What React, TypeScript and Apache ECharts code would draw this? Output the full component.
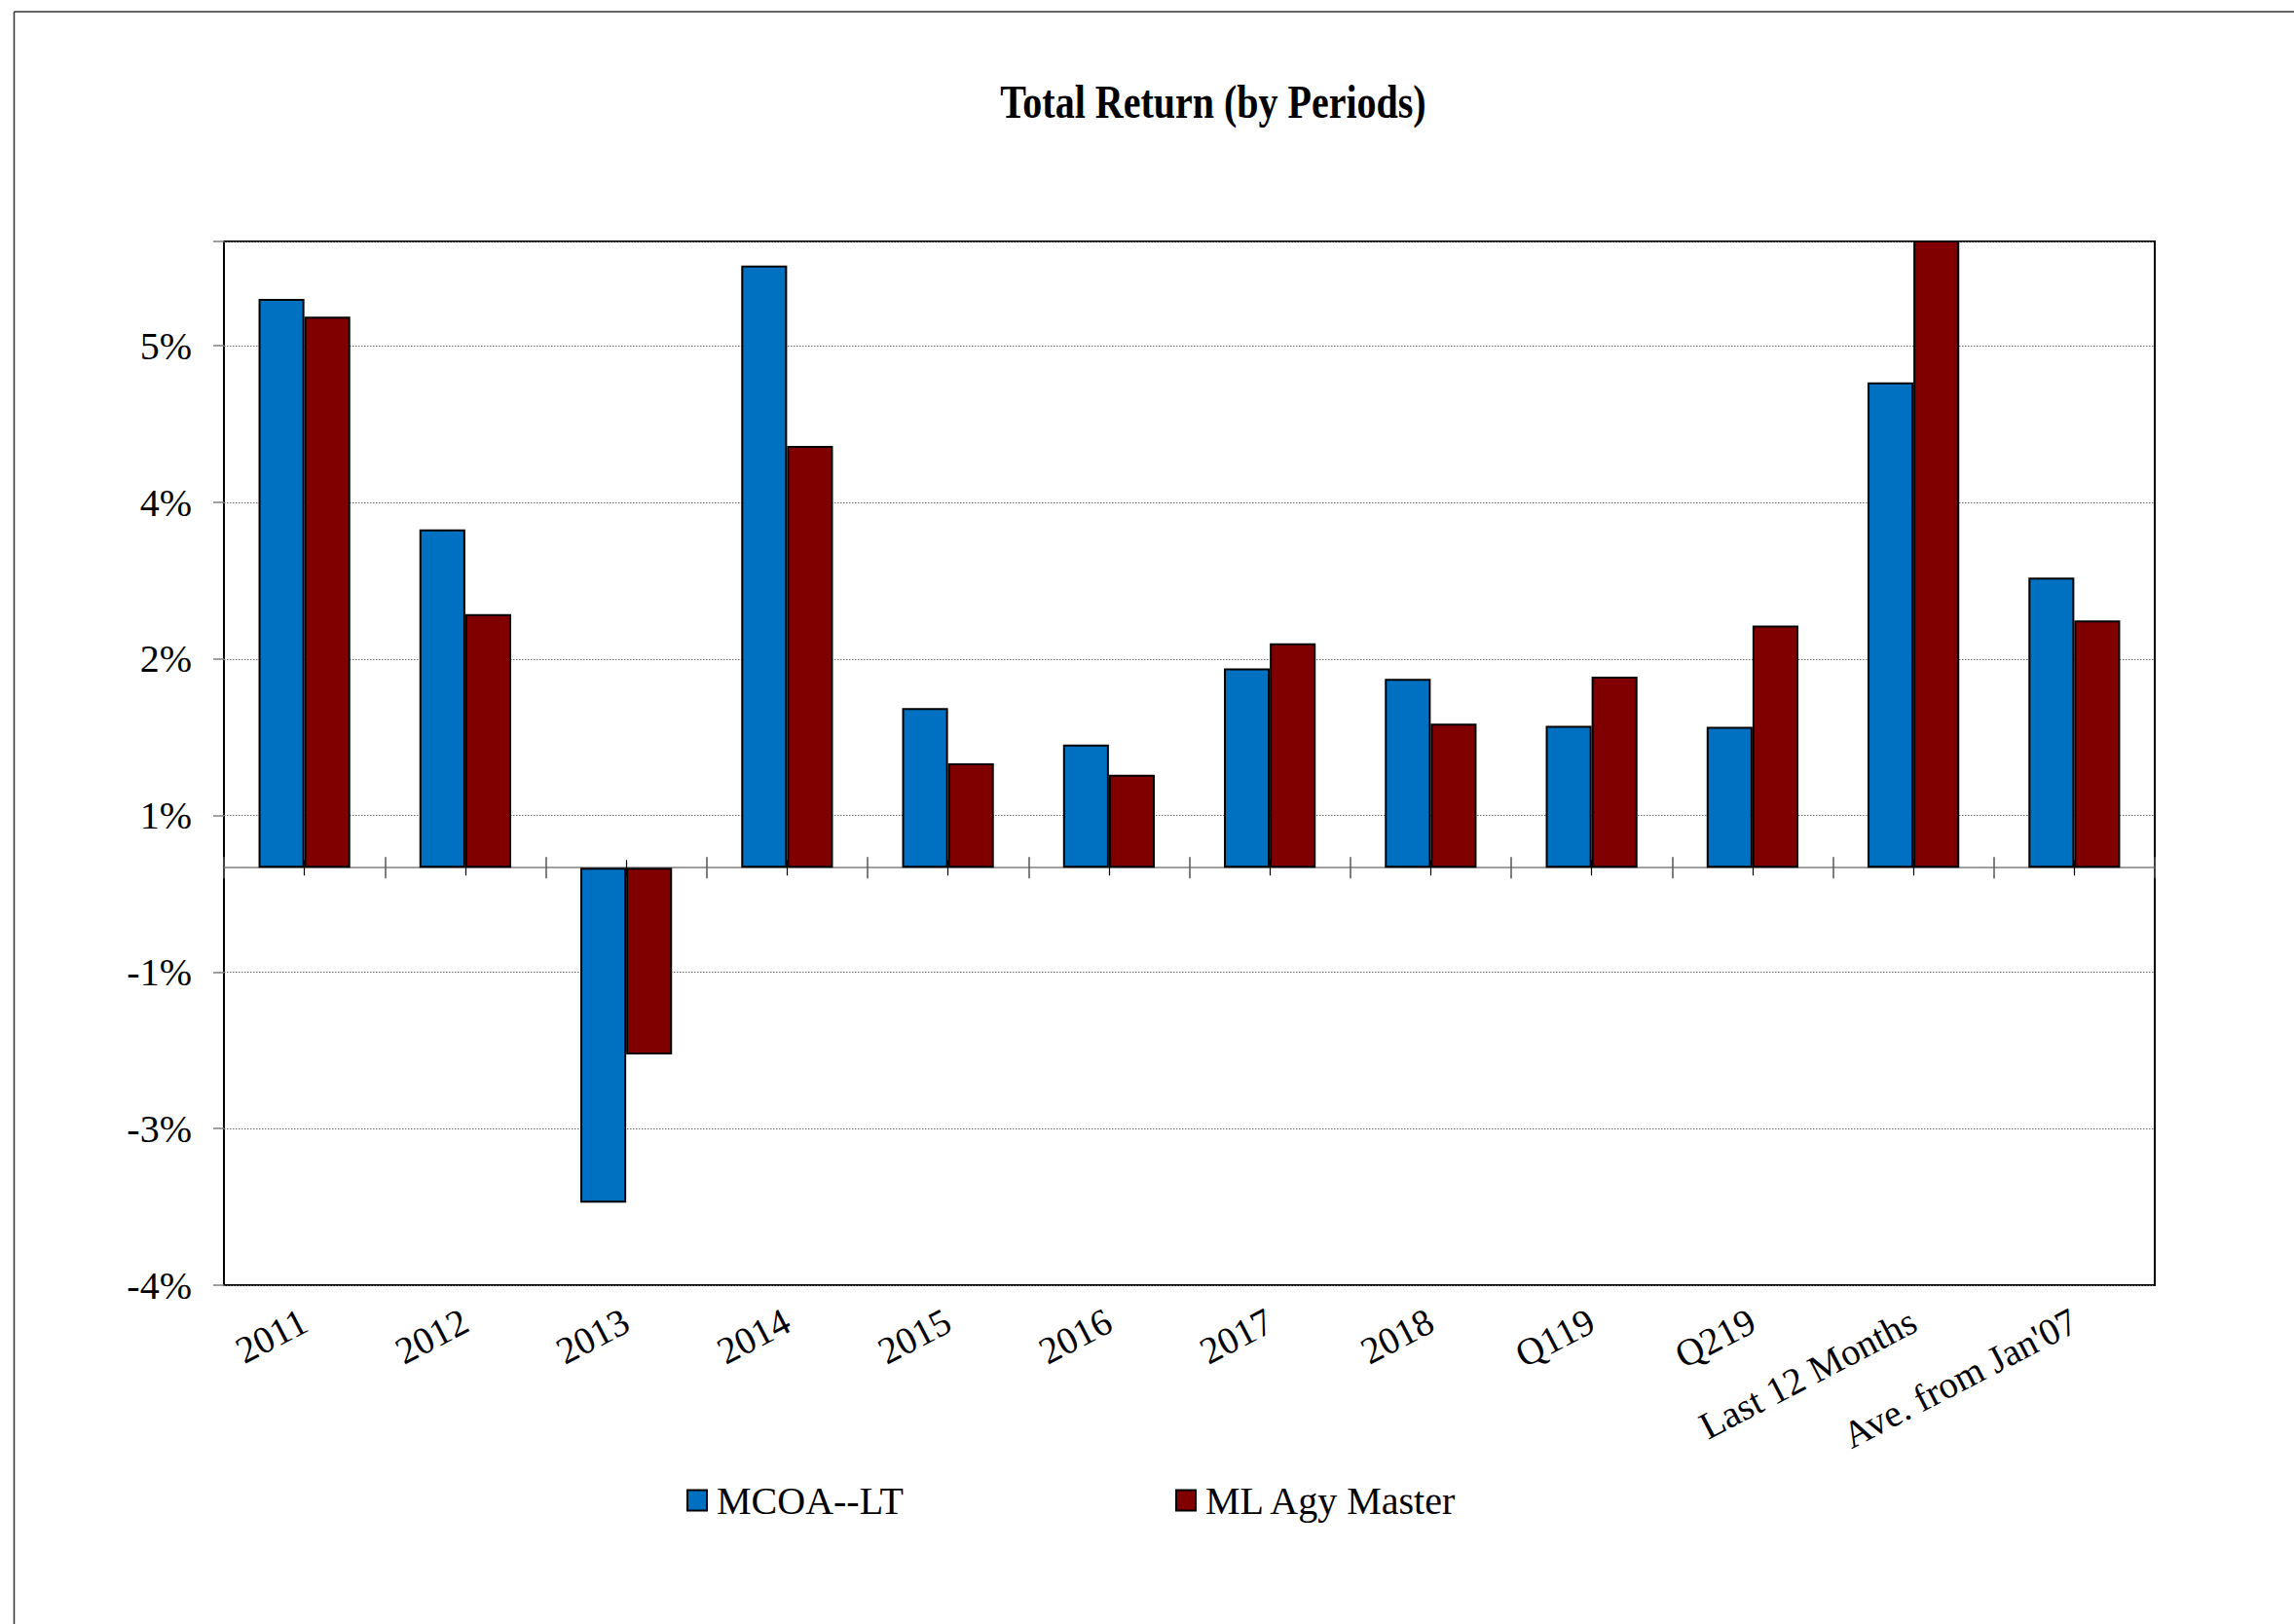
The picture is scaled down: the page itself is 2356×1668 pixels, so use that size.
import React, { useEffect, useRef } from 'react';
import * as echarts from 'echarts';

const categories = ['2011', '2012', '2013', '2014', '2015', '2016', '2017', '2018', 'Q119', 'Q219', 'Last 12 Months', "Ave. from Jan'07"];
const mcoaLT = [5.45, 3.24, -3.21, 5.77, 1.53, 1.18, 1.91, 1.81, 1.36, 1.35, 4.65, 2.78];
const mlAgyMaster = [5.28, 2.43, -1.79, 4.04, 1.0, 0.89, 2.15, 1.38, 1.83, 2.32, 6.3, 2.37];
const seriesNames = ['MCOA--LT', 'ML Agy Master'];
const seriesColors = ['#0070C0', '#800000'];
const yTickLabels = ['-4%', '-3%', '-1%', '1%', '2%', '4%', '5%'];
const yMin = -4;
const yMax = 6;
const yStep = 1.5;
const titleText = 'Total Return (by Periods)';

const FONT = '"Liberation Serif", "Times New Roman", "DejaVu Serif", serif';

function buildOption(): any {
  const zeroAxis = (extra: any) => ({
    type: 'category',
    data: categories,
    position: 'bottom',
    gridIndex: 0,
    axisLabel: { show: false, interval: 0 },
    splitLine: { show: false },
    ...extra,
  });
  const tickStyle = { color: '#555', width: 1.5 };
  const gridLine = { color: '#707070', width: 1.2, type: [1.5, 1.5] };

  return {
    animation: false,
    backgroundColor: '#fff',
    grid: {
      left: 230,
      right: 143,
      top: 248,
      bottom: 348,
      show: true,
      borderColor: '#000',
      borderWidth: 2,
      backgroundColor: 'transparent',
    },
    graphic: [
      { type: 'line', shape: { x1: 14.5, y1: 12, x2: 14.5, y2: 1668 }, style: { stroke: '#333', lineWidth: 1.5 }, silent: true },
      { type: 'line', shape: { x1: 14.5, y1: 12, x2: 2356, y2: 12 }, style: { stroke: '#333', lineWidth: 1.5 }, silent: true },
      {
        type: 'text',
        x: 1246,
        y: 105,
        scaleY: 1.2,
        style: {
          text: titleText,
          fill: '#000',
          font: 'bold 40px ' + FONT,
          align: 'center',
          verticalAlign: 'middle',
          textAlign: 'center',
          textVerticalAlign: 'middle',
        },
      },
    ],
    legend: seriesNames.map((n, i) => ({
      data: [n],
      left: i === 0 ? 700 : 1202,
      top: 1516,
      icon: 'rect',
      itemWidth: 20,
      itemHeight: 21,
      selectedMode: false,
      textStyle: { fontFamily: FONT, fontSize: 40, color: '#000', padding: [0, 0, 0, 5] },
    })),
    xAxis: [
      zeroAxis({
        axisLine: { show: true, onZero: true, onZeroAxisIndex: 0, lineStyle: { color: '#808080', width: 1.5 } },
        axisTick: { show: true, inside: false, length: 11, interval: 0, lineStyle: tickStyle },
      }),
      zeroAxis({
        axisLine: { show: false, onZero: true, onZeroAxisIndex: 0 },
        axisTick: { show: true, inside: true, length: 11, interval: 0, lineStyle: tickStyle },
      }),
      zeroAxis({
        axisLine: { show: false, onZero: true, onZeroAxisIndex: 0 },
        axisTick: { show: true, inside: false, alignWithLabel: true, length: 8, interval: 0, lineStyle: { color: '#000', width: 1.2 } },
      }),
      zeroAxis({
        axisLine: { show: false, onZero: true, onZeroAxisIndex: 0 },
        axisTick: { show: true, inside: true, alignWithLabel: true, length: 8, interval: 0, lineStyle: { color: '#000', width: 1.2 } },
      }),
      {
        type: 'category',
        data: categories,
        position: 'bottom',
        gridIndex: 0,
        axisLine: { show: false, onZero: false },
        axisTick: { show: false },
        splitLine: { show: false },
        axisLabel: { interval: 0, rotate: 27.5, margin: 34, fontSize: 39, fontFamily: FONT, color: '#000' },
      },
    ],
    yAxis: [
      { type: 'value', min: yMin, max: yMax, show: false, splitLine: { show: false } },
      {
        type: 'value',
        min: 0,
        max: yMax - yMin,
        interval: yStep,
        position: 'left',
        axisLine: { show: false },
        axisTick: { show: true, length: 11, lineStyle: { color: '#808080', width: 1.5 } },
        axisLabel: {
          margin: 33,
          fontSize: 40,
          fontFamily: FONT,
          color: '#000',
          formatter: (v: number) => {
            const i = Math.round(v / yStep);
            return Math.abs(v - i * yStep) < 1e-6 && yTickLabels[i] ? yTickLabels[i] : '';
          },
        },
        splitLine: { show: true, lineStyle: gridLine },
      },
    ],
    series: [mcoaLT, mlAgyMaster].map((d, i) => ({
      name: seriesNames[i],
      type: 'bar',
      data: d,
      xAxisIndex: 0,
      yAxisIndex: 0,
      barGap: '0%',
      barCategoryGap: '43%',
      clip: true,
      itemStyle: { color: seriesColors[i], borderColor: '#000', borderWidth: 2 },
    })),
  };
}

export default function App() {
  const ref = useRef<HTMLDivElement>(null);
  useEffect(() => {
    document.body.style.margin = '0';
    if (!ref.current) return;
    const chart = echarts.init(ref.current, null, { renderer: 'svg' });
    chart.setOption(buildOption());
    return () => chart.dispose();
  }, []);
  return <div ref={ref} style={{ position: 'absolute', left: 0, top: 0, width: 2356, height: 1668 }} />;
}
